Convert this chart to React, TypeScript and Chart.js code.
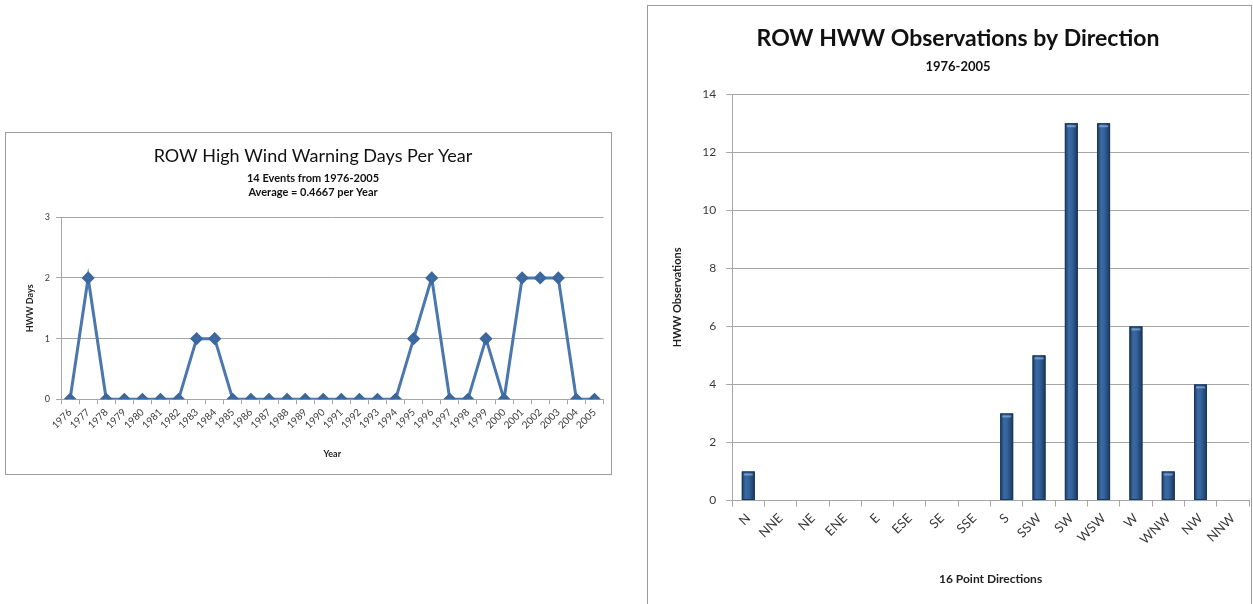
import React, { useEffect, useRef } from "react";
import { Chart, registerables } from "chart.js";

Chart.register(...registerables);

const years = [
  "1976", "1977", "1978", "1979", "1980", "1981", "1982", "1983", "1984", "1985",
  "1986", "1987", "1988", "1989", "1990", "1991", "1992", "1993", "1994", "1995",
  "1996", "1997", "1998", "1999", "2000", "2001", "2002", "2003", "2004", "2005",
];
const hwwDays = [0, 2, 0, 0, 0, 0, 0, 1, 1, 0, 0, 0, 0, 0, 0, 0, 0, 0, 0, 1, 2, 0, 0, 1, 0, 2, 2, 2, 0, 0];

const directions = ["N", "NNE", "NE", "ENE", "E", "ESE", "SE", "SSE", "S", "SSW", "SW", "WSW", "W", "WNW", "NW", "NNW"];
const observations = [1, 0, 0, 0, 0, 0, 0, 0, 3, 5, 13, 13, 6, 1, 4, 0];

const FONT = "Lato, 'Open Sans', sans-serif";
const GRID = "#a6a6a6";
const TEXT = "#3a3a3a";

const barShade = {
  id: "barShade",
  afterDatasetsDraw(chart: any) {
    const meta = chart.getDatasetMeta(0);
    const c = chart.ctx;
    meta.data.forEach((bar: any) => {
      const { x, y, base, width } = bar.getProps(["x", "y", "base", "width"], true);
      if (Math.abs(base - y) < 0.5) return;
      const left = x - width / 2;
      const g = c.createLinearGradient(left, 0, left + width, 0);
      g.addColorStop(0, "#1c3a60");
      g.addColorStop(0.3, "#3a6aa4");
      g.addColorStop(0.55, "#33629b");
      g.addColorStop(1, "#1a365a");
      c.save();
      c.fillStyle = g;
      c.fillRect(left, y, width, base - y);
      c.strokeStyle = "#1b385d";
      c.lineWidth = 1;
      c.strokeRect(left + 0.5, y + 0.5, width - 1, base - y - 1);
      c.fillStyle = "rgba(170,200,235,0.55)";
      c.fillRect(left + 2, y + 2, width - 4, 2);
      c.restore();
    });
  },
};

function LineChart() {
  const ref = useRef<HTMLCanvasElement>(null);
  useEffect(() => {
    if (!ref.current) return;
    const chart = new Chart(ref.current, {
      type: "line",
      data: {
        labels: years,
        datasets: [
          {
            data: hwwDays,
            borderColor: "#4a77ad",
            backgroundColor: "#3f6ca3",
            borderWidth: 3,
            pointStyle: "rectRot",
            pointRadius: 4.5,
            pointBorderColor: "#3a679e",
            pointBackgroundColor: "#3f6ca3",
            tension: 0,
          },
        ],
      },
      options: {
        animation: false,
        responsive: false,
        layout: { padding: { left: 15, right: 6, top: 10, bottom: 11 } },
        plugins: {
          legend: { display: false },
          tooltip: { enabled: false },
          title: {
            display: true,
            text: "ROW High Wind Warning Days Per Year",
            color: "#111",
            font: { family: FONT, size: 18, weight: "normal" },
            padding: { top: 2, bottom: 4 },
          },
          subtitle: {
            display: true,
            text: ["14 Events from 1976-2005", "Average = 0.4667 per Year"],
            color: "#111",
            font: { family: FONT, size: 11, weight: "bold", lineHeight: 1.35 },
            padding: { top: 0, bottom: 17 },
          },
        },
        scales: {
          x: {
            offset: true,
            grid: { offset: true, drawOnChartArea: false, tickLength: 5, color: GRID },
            border: { color: GRID },
            ticks: { minRotation: 45, maxRotation: 45, autoSkip: false, color: TEXT, font: { family: FONT, size: 10 }, padding: 2 },
            title: { display: true, text: "Year", color: "#222", font: { family: FONT, size: 9, weight: "bold" }, padding: { top: 15 } },
          },
          y: {
            min: 0,
            max: 3,
            ticks: { stepSize: 1, color: TEXT, font: { family: FONT, size: 9 }, padding: 6 },
            grid: { color: GRID, tickLength: 5 },
            border: { color: GRID },
            title: { display: true, text: "HWW Days", color: "#222", font: { family: FONT, size: 9, weight: "bold" }, padding: { bottom: 3 } },
          },
        },
      },
    });
    return () => chart.destroy();
  }, []);
  return <canvas ref={ref} width={605} height={341} style={{ display: "block" }} />;
}

function BarChart() {
  const ref = useRef<HTMLCanvasElement>(null);
  useEffect(() => {
    if (!ref.current) return;
    const chart = new Chart(ref.current, {
      type: "bar",
      data: {
        labels: directions,
        datasets: [
          {
            data: observations,
            backgroundColor: "#2f5c91",
            borderColor: "#1d3d66",
            borderWidth: 1,
            barPercentage: 0.4,
            categoryPercentage: 1,
          },
        ],
      },
      plugins: [barShade],
      options: {
        animation: false,
        responsive: false,
        layout: { padding: { left: 19, right: 2, top: 14, bottom: 14 } },
        plugins: {
          legend: { display: false },
          tooltip: { enabled: false },
          title: {
            display: true,
            text: "ROW HWW Observations by Direction",
            color: "#111",
            font: { family: FONT, size: 23, weight: "bold" },
            padding: { top: 5, bottom: 6 },
          },
          subtitle: {
            display: true,
            text: "1976-2005",
            color: "#111",
            font: { family: FONT, size: 13, weight: "bold" },
            padding: { top: 0, bottom: 20 },
          },
        },
        scales: {
          x: {
            grid: { offset: true, drawOnChartArea: false, tickLength: 6, color: GRID },
            border: { color: GRID },
            ticks: { minRotation: 45, maxRotation: 45, autoSkip: false, color: TEXT, font: { family: FONT, size: 13 }, padding: 4 },
            title: { display: true, text: "16 Point Directions", color: "#222", font: { family: FONT, size: 12, weight: "bold" }, padding: { top: 20 } },
          },
          y: {
            min: 0,
            max: 14,
            ticks: { stepSize: 2, color: TEXT, font: { family: FONT, size: 12 }, padding: 10 },
            grid: { color: GRID, tickLength: 6 },
            border: { color: GRID },
            title: { display: true, text: "HWW Observations", color: "#222", font: { family: FONT, size: 11, weight: "bold" }, padding: { bottom: 8 } },
          },
        },
      },
    });
    return () => chart.destroy();
  }, []);
  return <canvas ref={ref} width={603} height={598} style={{ display: "block" }} />;
}

export default function App() {
  useEffect(() => {
    document.body.style.overflow = "hidden";
  }, []);
  return (
    <div>
      <div
        style={{
          position: "absolute",
          left: 5,
          top: 132,
          width: 605,
          height: 341,
          border: "1px solid #9a9a9a",
          background: "#fff",
        }}
      >
        <LineChart />
      </div>
      <div
        style={{
          position: "absolute",
          left: 647,
          top: 5,
          width: 603,
          height: 599,
          borderTop: "1px solid #9a9a9a",
          borderLeft: "1px solid #9a9a9a",
          borderRight: "1px solid #9a9a9a",
          background: "#fff",
        }}
      >
        <BarChart />
      </div>
    </div>
  );
}
